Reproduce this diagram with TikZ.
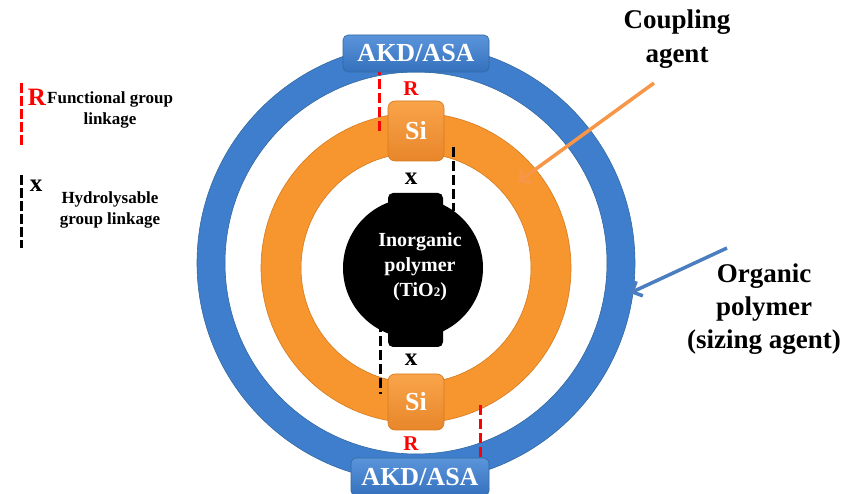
\documentclass[tikz,border=0pt]{standalone}
\usepackage{fontspec}
\setmainfont{Liberation Serif}
\usetikzlibrary{arrows.meta}
\definecolor{ringblue}{HTML}{3F7ECC}
\definecolor{ringblueD}{HTML}{33699F}
\definecolor{ringorange}{HTML}{F7962F}
\definecolor{ringorangeD}{HTML}{D57A1E}
\definecolor{boxblueT}{HTML}{5A95DB}
\definecolor{boxblueB}{HTML}{3570BD}
\definecolor{boxorT}{HTML}{F9A44A}
\definecolor{boxorB}{HTML}{E8862A}
\definecolor{arrowor}{HTML}{F79646}
\definecolor{arrowbl}{HTML}{4A7EC0}
\definecolor{linkred}{HTML}{FF0000}
\begin{document}
\begin{tikzpicture}[x=1pt,y=-1pt,
  fsz/.style={font=\fontsize{#1}{#1}\selectfont\bfseries},
  akdbox/.style={rounded corners=5pt, top color=boxblueT, bottom color=boxblueB, draw=ringblueD, line width=0.6pt,
     minimum width=146pt, minimum height=37pt, text=white, font=\fontsize{26}{26}\selectfont\bfseries, inner sep=0pt},
  sibox/.style={rounded corners=7pt, top color=boxorT, bottom color=boxorB, draw=ringorangeD, line width=0.6pt,
     minimum width=56pt, minimum height=58pt, text=white, font=\fontsize{26}{26}\selectfont\bfseries, inner sep=0pt},
  redlink/.style={draw=linkred, line width=3pt, dash pattern=on 10pt off 4pt},
  blacklink/.style={draw=black, line width=3pt, dash pattern=on 10pt off 4pt},
  lbl/.style={inner sep=0pt, align=center},
  callout/.style={line width=3.5pt, -{Straight Barb[length=8pt,width=16pt,line width=3.5pt]}},
]
\useasboundingbox (0,0) rectangle (844,494);
\fill[white] (0,0) rectangle (844,494);

% rings
\coordinate (cb) at (416,263);
\coordinate (co) at (416,268);
\fill[ringblue, even odd rule, draw=ringblueD, line width=0.6pt] (cb) circle[radius=219pt] (cb) circle[radius=191pt];
\fill[ringorange, even odd rule, draw=ringorangeD, line width=0.6pt] (co) circle[radius=155pt] (co) circle[radius=115pt];

% inorganic core
\fill[black] (413,268) circle[radius=70pt];
\fill[black, rounded corners=5pt] (388,193) rectangle (443,226);
\fill[black, rounded corners=5pt] (388,314) rectangle (443,347);
\node[lbl, text=white, fsz=20, align=center] (core) at (420,267)
  {Inorganic\\[5pt]polymer\\[5pt](TiO{\fontsize{13}{13}\selectfont 2})};

% linkage dashes
\coordinate (rt1) at (379,65);  \coordinate (rt2) at (379,131);
\coordinate (xt1) at (453,147); \coordinate (xt2) at (453,211);
\coordinate (xb1) at (380,322); \coordinate (xb2) at (380,394);
\coordinate (rb1) at (480,405); \coordinate (rb2) at (480,459);
\draw[redlink] (rt1) -- (rt2);
\draw[blacklink] (xt1) -- (xt2);
\draw[blacklink] (xb1) -- (xb2);
\draw[redlink] (rb1) -- (rb2);

% boxes
\node[akdbox] (akdt) at (416,53.5) {AKD/ASA};
\node[akdbox, minimum width=138pt, minimum height=38pt] (akdb) at (420,477) {AKD/ASA};
\node[sibox, minimum height=60pt] (sit) at (416,131) {Si};
\node[sibox, minimum height=56pt] (sib) at (416,402) {Si};

% R and x labels
\node[lbl, text=linkred, fsz=21] (rtop) at (411,89) {R};
\node[lbl, text=linkred, fsz=21] (rbot) at (411,444) {R};
\node[lbl, fsz=25] (xtop) at (411,179) {x};
\node[lbl, fsz=25] (xbot) at (411,360) {x};

% legend
\coordinate (lr1) at (21,83);  \coordinate (lr2) at (21,147);
\coordinate (lx1) at (21,175); \coordinate (lx2) at (21,248);
\draw[redlink, dash pattern=on 10pt off 3pt] (lr1) -- (lr2);
\draw[blacklink, dash pattern=on 10pt off 3pt] (lx1) -- (lx2);
\node[lbl, text=linkred, fsz=25] (legR) at (37,97) {R};
\node[lbl, fsz=17, anchor=west] (legF) at (47,99) {Functional group};
\node[lbl, fsz=17] (legF2) at (110,120) {linkage};
\node[lbl, fsz=25] (legX) at (36,186) {x};
\node[lbl, fsz=17] (legH) at (110,210) {Hydrolysable\\[4pt]group linkage};

% callouts
\node[lbl, fsz=27] (coup) at (677,39) {Coupling\\[7pt]agent};
\node[lbl, fsz=27] (org) at (764,309) {Organic\\[6pt]polymer\\[6pt](sizing agent)};
\coordinate (ca1) at (654,83);  \coordinate (ca2) at (518,182);
\coordinate (oa1) at (727,248); \coordinate (oa2) at (630,293);
\draw[callout, arrowor] (ca1) -- (ca2);
\draw[callout, arrowbl] (oa1) -- (oa2);
\end{tikzpicture}
\end{document}
